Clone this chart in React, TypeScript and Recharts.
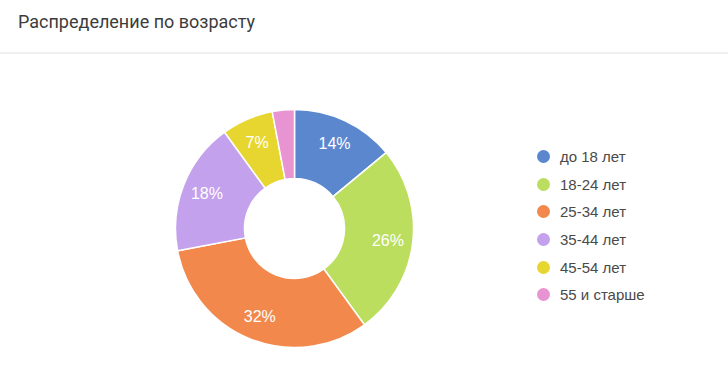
import { PieChart, Pie, Cell, Legend } from 'recharts'

const groups = ['до 18 лет', '18-24 лет', '25-34 лет', '35-44 лет', '45-54 лет', '55 и старше']
const shares = [14, 26, 32, 18, 7, 3]
const colors = ['#5b87cf', '#bbde5e', '#f2884b', '#c4a1ec', '#e8d630', '#e894d2']

const data = groups.map((name, i) => ({ name, value: shares[i] }))

const RADIAN = Math.PI / 180

function renderLabel(props: any) {
  const { cx, cy, midAngle, innerRadius, outerRadius, percent } = props
  if (percent < 0.05) return null
  const r = innerRadius + (outerRadius - innerRadius) * 0.64
  const x = cx + r * Math.cos(-midAngle * RADIAN)
  const y = cy + r * Math.sin(-midAngle * RADIAN)
  return (
    <text x={x} y={y} fill="#fff" textAnchor="middle" dominantBaseline="central"
      fontSize={16} fontFamily="'Liberation Sans', Arial, sans-serif">
      {`${Math.round(percent * 100)}%`}
    </text>
  )
}

function AgeLegend() {
  return (
    <div style={{ fontFamily: "'Liberation Sans', Arial, sans-serif" }}>
      {data.map((d, i) => (
        <div key={d.name} style={{ display: 'flex', alignItems: 'center', height: 27.6 }}>
          <span style={{ width: 13, height: 13, borderRadius: '50%', background: colors[i], marginRight: 10 }} />
          <span style={{ fontSize: 15, color: '#4a4a4a' }}>{d.name}</span>
        </div>
      ))}
    </div>
  )
}

export default function App() {
  return (
    <div style={{ position: 'relative', width: 728, height: 389, background: '#fff' }}>
      <style>{'body{margin:0}'}</style>
      <div style={{
        position: 'absolute', left: 18, top: 11, fontSize: 18, color: '#3c3c3c',
        fontFamily: 'Roboto, Arial, sans-serif',
      }}>
        Распределение по возрасту
      </div>
      <div style={{ position: 'absolute', left: 0, top: 52, width: 728, height: 2, background: '#f0f0f0' }} />
      <div style={{ position: 'absolute', left: 0, top: 0 }}>
        <PieChart width={728} height={389} margin={{ top: 0, right: 0, bottom: 0, left: 0 }}>
          <Pie
            data={data} dataKey="value" nameKey="name"
            cx={294.5} cy={228.5} innerRadius={50} outerRadius={119}
            startAngle={90} endAngle={-270}
            stroke="#fff" strokeWidth={1.5}
            label={renderLabel} labelLine={false}
            isAnimationActive={false}
          >
            {data.map((d, i) => <Cell key={d.name} fill={colors[i]} />)}
          </Pie>
          <Legend content={<AgeLegend />} wrapperStyle={{ left: 537, top: 143, width: 180 }} />
        </PieChart>
      </div>
    </div>
  )
}
